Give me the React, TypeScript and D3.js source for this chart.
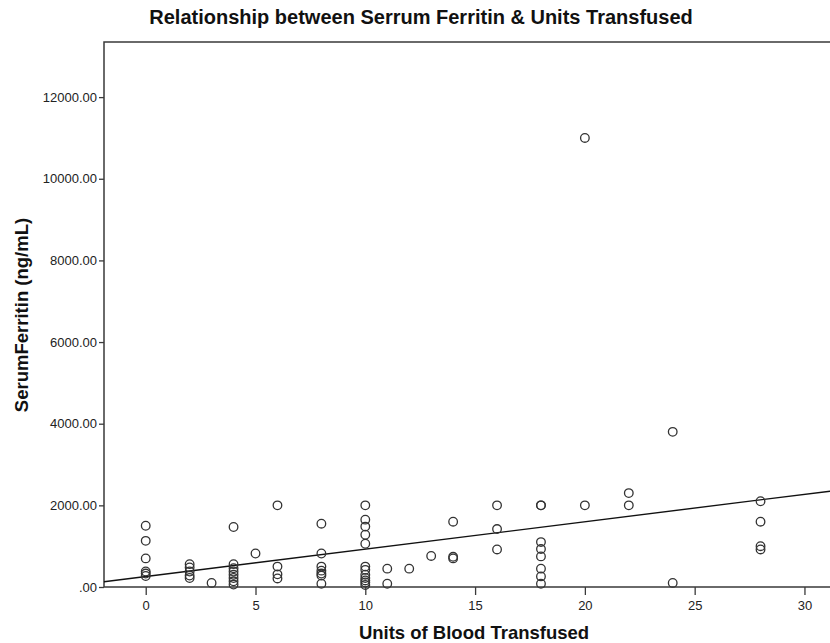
import React, { useEffect, useRef } from "react";
import * as d3 from "d3";

// units transfused -> serum ferritin values
const units = [0, 2, 3, 4, 5, 6, 8, 10, 11, 12, 13, 14, 16, 18, 20, 22, 24, 28];
const ferritin = [
  [1500, 1130, 700, 380, 330, 270],
  [560, 480, 380, 280, 220],
  [100],
  [1470, 560, 460, 380, 300, 220, 140, 60],
  [820],
  [2000, 500, 310, 210],
  [1550, 820, 500, 400, 330, 280, 80],
  [2000, 1650, 1480, 1280, 1060, 500, 420, 300, 220, 160, 110, 50],
  [450, 80],
  [450],
  [760],
  [1600, 740, 700],
  [2000, 1420, 920],
  [2000, 2000, 1100, 930, 750, 450, 260, 80],
  [11000, 2000],
  [2300, 2000],
  [3800, 100],
  [2100, 1600, 1000, 920]
];
const xTicks = [0, 5, 10, 15, 20, 25, 30];
const yTicks = [0, 2000, 4000, 6000, 8000, 10000, 12000];

const width = 830;
const height = 643;
const font = "'Liberation Sans', Arial, sans-serif";
const ink = "#3a3a3a";

const App = () => {
  const ref = useRef<SVGSVGElement>(null);

  useEffect(() => {
    const svg = d3.select(ref.current);
    svg.selectAll("*").remove();

    const points = units.flatMap((u, i) => ferritin[i].map(v => ({ x: u, y: v })));

    const x = d3.scaleLinear().domain([-1.9, 31.3]).range([104, 833]);
    const y = d3.scaleLinear().domain([0, 13350]).range([587, 42]);

    // least squares fit line
    const mx = d3.mean(points, d => d.x)!;
    const my = d3.mean(points, d => d.y)!;
    const sxy = d3.sum(points, d => (d.x - mx) * (d.y - my));
    const sxx = d3.sum(points, d => (d.x - mx) ** 2);
    const slope = sxy / sxx;
    const icpt = my - slope * mx;

    svg
      .append("text")
      .attr("x", 421)
      .attr("y", 24)
      .attr("text-anchor", "middle")
      .attr("font-family", font)
      .attr("font-weight", "bold")
      .attr("font-size", 20)
      .attr("fill", "#111")
      .text("Relationship between Serrum Ferritin & Units Transfused");

    // frame (right side runs off the image)
    svg
      .append("path")
      .attr("d", `M${x.range()[1]},${y(13350)}H${x(-1.9)}V${y(0)}H${x.range()[1]}`)
      .attr("fill", "none")
      .attr("stroke", ink)
      .attr("stroke-width", 1.5);

    const xAxis = svg
      .append("g")
      .attr("transform", `translate(0,${y(0)})`)
      .call(d3.axisBottom(x).tickValues(xTicks).tickSize(8).tickSizeOuter(0).tickPadding(6));
    xAxis.select(".domain").remove();
    xAxis.selectAll("line").attr("stroke", ink).attr("stroke-width", 1.3);
    xAxis.selectAll("text").attr("font-family", font).attr("font-size", 13).attr("fill", "#222");

    const yAxis = svg
      .append("g")
      .attr("transform", `translate(${x(-1.9)},0)`)
      .call(
        d3
          .axisLeft(y)
          .tickValues(yTicks)
          .tickSize(5)
          .tickSizeOuter(0)
          .tickPadding(2)
          .tickFormat(d => (d === 0 ? ".00" : d3.format(".2f")(d as number)))
      );
    yAxis.select(".domain").remove();
    yAxis.selectAll("line").attr("stroke", ink).attr("stroke-width", 1.3);
    yAxis.selectAll("text").attr("font-family", font).attr("font-size", 13).attr("fill", "#222");

    svg
      .append("text")
      .attr("x", 474)
      .attr("y", 639)
      .attr("text-anchor", "middle")
      .attr("font-family", font)
      .attr("font-weight", "bold")
      .attr("font-size", 18.5)
      .attr("fill", "#111")
      .text("Units of Blood Transfused");

    svg
      .append("text")
      .attr("transform", `translate(28,315) rotate(-90)`)
      .attr("text-anchor", "middle")
      .attr("font-family", font)
      .attr("font-weight", "bold")
      .attr("font-size", 18.5)
      .attr("fill", "#111")
      .text("SerumFerritin (ng/mL)");

    const [x0, x1] = x.domain();
    svg
      .append("line")
      .attr("x1", x(x0))
      .attr("y1", y(icpt + slope * x0))
      .attr("x2", x(x1))
      .attr("y2", y(icpt + slope * x1))
      .attr("stroke", "#111")
      .attr("stroke-width", 1.4);

    svg
      .append("g")
      .selectAll("circle")
      .data(points)
      .join("circle")
      .attr("cx", d => x(d.x))
      .attr("cy", d => y(d.y))
      .attr("r", 4.3)
      .attr("fill", "none")
      .attr("stroke", "#333")
      .attr("stroke-width", 1.3);
  }, []);

  return (
    <svg
      ref={ref}
      width={width}
      height={height}
      style={{ position: "absolute", left: 0, top: 0, background: "#fff" }}
    ></svg>
  );
};

export default App;
